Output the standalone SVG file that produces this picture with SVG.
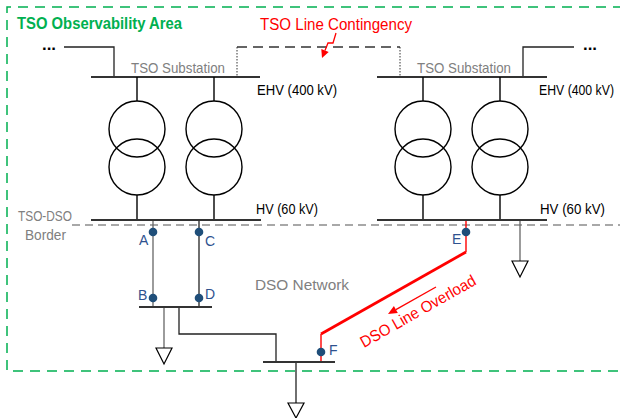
<svg xmlns="http://www.w3.org/2000/svg" width="620" height="418" viewBox="0 0 620 418">
<defs>
<style>
text{font-family:"Liberation Sans",Arial,sans-serif}
.gray{fill:#808080;font-size:14.5px}
.blk{fill:#000;font-size:14.5px}
.lbl{fill:#2F528F;font-size:14px}
.bus{stroke:#333;stroke-width:2.2;fill:none}
.ln{stroke:#222;stroke-width:1.3;fill:none}
.lng{stroke:#666;stroke-width:1.3;fill:none}
.xf{stroke:#000;stroke-width:1.4;fill:none}
.load{stroke:#000;stroke-width:1.2;fill:#fff}
.dot{fill:#1F4E79}
.red{stroke:#FF0000;fill:none}
</style>
</defs>
<rect width="620" height="418" fill="#fff"/>
<g id="observability-area">
<path d="M623 7 H7 V371 H623" fill="none" stroke="#00B050" stroke-width="1.5" stroke-dasharray="10 7"/>
<text x="17" y="29" font-size="16.5" font-weight="bold" fill="#00B050" textLength="165" lengthAdjust="spacingAndGlyphs">TSO Observability Area</text>
</g>
<g id="tso-dso-border">
<line x1="72" y1="225" x2="620" y2="225" stroke="#8C8C8C" stroke-width="1.3" stroke-dasharray="8 5"/>
<text class="gray" x="18" y="221" textLength="54" lengthAdjust="spacingAndGlyphs">TSO-DSO</text>
<text class="gray" x="25" y="240" textLength="41" lengthAdjust="spacingAndGlyphs">Border</text>
</g>
<g id="connectors">
<polyline class="ln" points="64,47 114,47 114,77"/>
<polyline class="ln" points="574,47 523,47 523,77"/>
<line x1="237" y1="47" x2="400" y2="47" stroke="#333" stroke-width="1.5" stroke-dasharray="10 6"/>
<line x1="237" y1="47" x2="237" y2="77" stroke="#333" stroke-width="1" stroke-dasharray="1.5 1.5"/>
<line x1="400" y1="47" x2="400" y2="77" stroke="#333" stroke-width="1" stroke-dasharray="1.5 1.5"/>
<line class="lng" x1="153" y1="220" x2="153" y2="307"/>
<line class="ln" x1="199" y1="220" x2="199" y2="307"/>
<line class="lng" x1="164" y1="307" x2="164" y2="348"/>
<polyline class="ln" points="179,307 179,334 276,334 276,362"/>
<line class="ln" x1="296" y1="362" x2="296" y2="403"/>
<line class="lng" x1="520" y1="220" x2="520" y2="261"/>
<polyline class="red" stroke-width="1.4" points="466,220 466,252"/>
<polyline class="red" stroke-width="1.4" points="321,334 321,362"/>
<line class="red" stroke-width="2.8" x1="466" y1="252" x2="321" y2="334"/>
</g>
<g id="tso-substation-left">
<line class="bus" x1="91" y1="77" x2="260" y2="77"/>
<text class="gray" x="178" y="73" text-anchor="middle" textLength="94" lengthAdjust="spacingAndGlyphs">TSO Substation</text>
<text x="42" y="50" font-size="16" font-weight="bold" fill="#000" textLength="14" lengthAdjust="spacingAndGlyphs">...</text>
<text class="blk" x="257" y="95" textLength="80" lengthAdjust="spacingAndGlyphs">EHV (400 kV)</text>
</g>
<g id="transformer-left-1">
<line class="xf" x1="137" y1="77" x2="137" y2="101"/>
<circle class="xf" cx="137" cy="129" r="28"/>
<circle class="xf" cx="137" cy="167" r="28"/>
<line class="xf" x1="137" y1="195" x2="137" y2="220"/>
</g>
<g id="transformer-left-2">
<line class="xf" x1="214" y1="77" x2="214" y2="101"/>
<circle class="xf" cx="214" cy="129" r="28"/>
<circle class="xf" cx="214" cy="167" r="28"/>
<line class="xf" x1="214" y1="195" x2="214" y2="220"/>
</g>
<g id="hv-bus-left">
<line class="bus" x1="91" y1="220" x2="261" y2="220"/>
<text class="blk" x="256" y="214" textLength="62" lengthAdjust="spacingAndGlyphs">HV (60 kV)</text>
</g>
<g id="tso-substation-right">
<line class="bus" x1="377" y1="77" x2="547" y2="77"/>
<text class="gray" x="464" y="73" text-anchor="middle" textLength="94" lengthAdjust="spacingAndGlyphs">TSO Substation</text>
<text x="583" y="50" font-size="16" font-weight="bold" fill="#000" textLength="14" lengthAdjust="spacingAndGlyphs">...</text>
<text class="blk" x="539" y="95" textLength="75" lengthAdjust="spacingAndGlyphs">EHV (400 kV)</text>
</g>
<g id="transformer-right-1">
<line class="xf" x1="423" y1="77" x2="423" y2="101"/>
<circle class="xf" cx="423" cy="129" r="28"/>
<circle class="xf" cx="423" cy="167" r="28"/>
<line class="xf" x1="423" y1="195" x2="423" y2="220"/>
</g>
<g id="transformer-right-2">
<line class="xf" x1="500" y1="77" x2="500" y2="101"/>
<circle class="xf" cx="500" cy="129" r="28"/>
<circle class="xf" cx="500" cy="167" r="28"/>
<line class="xf" x1="500" y1="195" x2="500" y2="220"/>
</g>
<g id="hv-bus-right">
<line class="bus" x1="377" y1="220" x2="547" y2="220"/>
<text class="blk" x="540" y="214" textLength="65" lengthAdjust="spacingAndGlyphs">HV (60 kV)</text>
</g>
<g id="load-right"><polygon class="load" points="512,261 528,261 520,277"/></g>
<g id="dso-bus-bd">
<line class="bus" x1="139" y1="307" x2="212" y2="307"/>
</g>
<g id="load-bd"><polygon class="load" points="156,348 172,348 164,364"/></g>
<g id="dso-bus-f">
<line class="bus" x1="263" y1="362" x2="335" y2="362"/>
</g>
<g id="load-f"><polygon class="load" points="288,403 304,403 296,418"/></g>
<g id="dso-network-label">
<text class="gray" x="255" y="290" textLength="94" lengthAdjust="spacingAndGlyphs">DSO Network</text>
</g>
<g id="point-a"><circle class="dot" cx="153" cy="232" r="4.3"/><text class="lbl" x="139" y="245">A</text></g>
<g id="point-c"><circle class="dot" cx="199" cy="232" r="4.3"/><text class="lbl" x="205" y="246">C</text></g>
<g id="point-b"><circle class="dot" cx="153" cy="298" r="4.3"/><text class="lbl" x="138" y="300">B</text></g>
<g id="point-d"><circle class="dot" cx="199" cy="298" r="4.3"/><text class="lbl" x="205" y="299">D</text></g>
<g id="point-e"><circle class="dot" cx="466" cy="232" r="4.3"/><text class="lbl" x="452" y="244">E</text></g>
<g id="point-f"><circle class="dot" cx="321" cy="352" r="4.3"/><text class="lbl" x="329" y="355">F</text></g>
<g id="tso-line-contingency">
<text x="260" y="30" font-size="16" fill="#FF0000" textLength="152" lengthAdjust="spacingAndGlyphs">TSO Line Contingency</text>
<polyline class="red" stroke-width="1.3" points="336,33 333,43 328,43 325,50.6"/>
<polygon fill="#FF0000" points="322,58 328.7,52.1 321.3,49.1"/>
</g>
<g id="dso-line-overload">
<line class="red" stroke-width="1.3" x1="436" y1="287" x2="395.9" y2="309.6"/>
<polygon fill="#FF0000" points="388,314 397.8,313.1 393.9,306.1"/>
<text x="364" y="348" font-size="16" fill="#FF0000" transform="rotate(-29.5 364 348)" textLength="130" lengthAdjust="spacingAndGlyphs">DSO Line Overload</text>
</g>
</svg>
